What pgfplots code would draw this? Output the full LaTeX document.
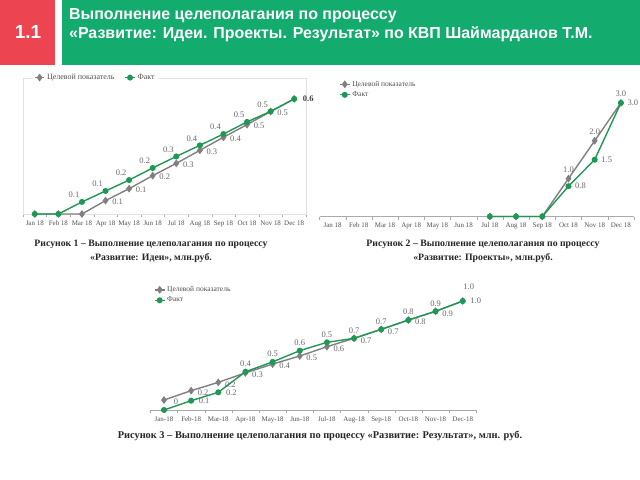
\documentclass[border=0pt]{standalone}
\usepackage{pgfplots}
\pgfplotsset{compat=1.18}
\usepackage{fontspec}
\setmainfont{Liberation Serif}
\newfontfamily\headfont{Liberation Sans}
\definecolor{hdrgreen}{RGB}{20,172,110}
\definecolor{hdrred}{RGB}{236,68,80}
\definecolor{lgreen}{RGB}{30,152,82}
\definecolor{lgray}{RGB}{128,128,128}
\definecolor{lbl}{RGB}{105,105,105}
\definecolor{axgray}{RGB}{170,170,170}
\definecolor{boxgray}{RGB}{225,225,225}
\definecolor{ticktext}{RGB}{80,80,80}
\pgfplotsset{
  base/.style={
    scale only axis, clip=false,
    axis x line*=bottom, axis y line=none,
    x axis line style={draw=axgray,-},
    xmin=-0.5, xmax=11.5, ymin=0,
    xtick={0,...,11},
    major x tick style={draw=none},
    minor xtick={-0.5,0.5,...,11.5},
    minor x tick style={draw=axgray},
    minor tick length=3bp, major tick length=3bp,
    tick align=outside,
    xticklabel style={font=\fontsize{7}{8}\selectfont, text=ticktext},
    legend cell align=left,
    legend style={draw=none, fill=white, font=\fontsize{8}{9}\selectfont, text=ticktext, inner sep=1bp},
    legend image code/.code={\draw[mark repeat=2,mark phase=2,##1] plot coordinates {(0cm,0cm) (0.17cm,0cm) (0.34cm,0cm)};},
  },
  gser/.style={color=lgray, line width=1.4pt, mark=diamond*, mark size=2.8pt, mark options={solid}},
  fser/.style={color=lgreen, line width=1.4pt, mark=*, mark size=2.3pt, mark options={solid}},
  lab/.style={draw=none, mark=none, forget plot, nodes near coords, point meta=explicit symbolic,
    nodes near coords style={anchor=center, font=\fontsize{8.5}{9}\selectfont, text=lbl, inner sep=0pt, #1}},
}
\begin{document}
\begin{tikzpicture}
\useasboundingbox (0,0) rectangle (640bp,-480bp);
\fill[white] (0,0) rectangle (640bp,-480bp);
% header
\fill[hdrred] (0,0) rectangle (55bp,-65bp);
\fill[hdrgreen] (62bp,0) rectangle (640bp,-65bp);
\node[text=white, font=\headfont\bfseries\fontsize{19}{21}\selectfont] at (28bp,-32bp) {1.1};
\node[anchor=north west, text=white, align=left, inner sep=0pt,
  font=\headfont\bfseries\fontsize{16}{19}\selectfont] at (69bp,-8.5bp)
  {Выполнение целеполагания по процессу\\«Развитие: Идеи. Проекты. Результат» по КВП Шаймарданов Т.М.};

% captions
\node[align=center, font=\bfseries\fontsize{9.8}{14}\selectfont, text=black!85] at (151bp,-251bp)
  {Рисунок 1 – Выполнение целеполагания по процессу\\«Развитие: Идеи», млн.руб.};
\node[align=center, font=\bfseries\fontsize{9.8}{14}\selectfont, text=black!85] at (483bp,-251bp)
  {Рисунок 2 – Выполнение целеполагания по процессу\\«Развитие: Проекты», млн.руб.};
\node[align=center, font=\bfseries\fontsize{10.4}{14}\selectfont, text=black!85] at (320bp,-436bp)
  {Рисунок 3 – Выполнение целеполагания по процессу «Развитие: Результат», млн. руб.};

% ---------- Chart 1 ----------
\begin{axis}[base, at={(23bp,-214bp)}, anchor=south west,
  width=283bp, height=136bp, ymax=0.709,
  xticklabels={Jan 18,Feb 18,Mar 18,Apr 18,May 18,Jun 18,Jul 18,Aug 18,Sep 18,Oct 18,Nov 18,Dec 18},
  legend columns=2,
  legend style={at={(0.035,1.003)}, anchor=west, /tikz/every even column/.append style={column sep=8bp}}]
\draw[boxgray] (rel axis cs:0,0) rectangle (rel axis cs:1,1);
\addplot[gser] coordinates {(0,0) (1,0) (2,0) (3,0.07) (4,0.132) (5,0.2) (6,0.264) (7,0.332) (8,0.4) (9,0.466) (10,0.534) (11,0.6)};
\addlegendentry{Целевой показатель}
\addplot[fser] coordinates {(0,0) (1,0) (2,0.063) (3,0.12) (4,0.177) (5,0.24) (6,0.30) (7,0.358) (8,0.417) (9,0.48) (10,0.535) (11,0.6)};
\addlegendentry{Факт}
\addplot[lab={xshift=-8bp, yshift=7bp}] coordinates {(2,0.063) [0.1] (3,0.12) [0.1] (4,0.177) [0.2] (5,0.24) [0.2] (6,0.30) [0.3] (7,0.358) [0.4] (8,0.417) [0.4] (9,0.48) [0.5] (10,0.535) [0.5]};
\addplot[lab={xshift=12bp, yshift=-1bp}] coordinates {(3,0.07) [0.1] (4,0.132) [0.1] (5,0.2) [0.2] (6,0.264) [0.3] (7,0.332) [0.3] (8,0.4) [0.4] (9,0.466) [0.5] (10,0.534) [0.5]};
\addplot[lab={xshift=14bp, font=\bfseries\fontsize{8.5}{9}\selectfont, text=black!75}] coordinates {(11,0.6) [0.6]};
\end{axis}

% ---------- Chart 2 ----------
\begin{axis}[base, at={(319.5bp,-216.5bp)}, anchor=south west,
  width=314.5bp, height=125bp, ymax=3.3,
  xticklabels={Jan 18,Feb 18,Mar 18,Apr 18,May 18,Jun 18,Jul 18,Aug 18,Sep 18,Oct 18,Nov 18,Dec 18},
  legend style={at={(0.059,1.016)}, anchor=west, font=\fontsize{7.5}{8.5}\selectfont}]
\addplot[gser] coordinates {(6,0) (7,0) (8,0) (9,1.0) (10,2.0) (11,3.0)};
\addlegendentry{Целевой показатель}
\addplot[fser] coordinates {(6,0) (7,0) (8,0) (9,0.8) (10,1.5) (11,3.0)};
\addlegendentry{Факт}
\addplot[lab={yshift=9bp}] coordinates {(9,1.0) [1.0] (10,2.0) [2.0] (11,3.0) [3.0]};
\addplot[lab={xshift=12bp}] coordinates {(9,0.8) [0.8] (10,1.5) [1.5] (11,3.0) [3.0]};
\end{axis}

% ---------- Chart 3 ----------
\begin{axis}[base, at={(150.4bp,-410bp)}, anchor=south west,
  width=325.9bp, height=125.7bp, ymax=1.15,
  xticklabels={Jan-18,Feb-18,Mar-18,Apr-18,May-18,Jun-18,Jul-18,Aug-18,Sep-18,Oct-18,Nov-18,Dec-18},
  legend style={at={(0.008,0.915)}, anchor=west, font=\fontsize{7.5}{8.5}\selectfont}]
\addplot[gser] coordinates {(0,0.091) (1,0.177) (2,0.253) (3,0.34) (4,0.42) (5,0.494) (6,0.579) (7,0.656) (8,0.738) (9,0.823) (10,0.903) (11,0.997)};
\addlegendentry{Целевой показатель}
\addplot[fser] coordinates {(0,0) (1,0.085) (2,0.162) (3,0.35) (4,0.44) (5,0.543) (6,0.619) (7,0.656) (8,0.738) (9,0.823) (10,0.903) (11,0.997)};
\addlegendentry{Факт}
\addplot[lab={xshift=12bp, yshift=-2bp}] coordinates {(0,0.091) [0] (1,0.177) [0.2] (2,0.253) [0.2] (3,0.34) [0.3] (4,0.42) [0.4] (5,0.494) [0.5] (6,0.579) [0.6] (7,0.656) [0.7] (8,0.738) [0.7] (9,0.823) [0.8] (10,0.903) [0.9]};
\addplot[lab={xshift=6bp, yshift=14bp}] coordinates {(11,0.997) [1.0]};
\addplot[lab={yshift=8bp}] coordinates {(3,0.35) [0.4] (4,0.44) [0.5] (5,0.543) [0.6] (6,0.619) [0.5] (7,0.656) [0.7] (8,0.738) [0.7] (9,0.823) [0.8] (10,0.903) [0.9]};
\addplot[lab={xshift=13bp}] coordinates {(1,0.085) [0.1] (2,0.162) [0.2] (11,0.997) [1.0]};
\end{axis}
\end{tikzpicture}
\end{document}
